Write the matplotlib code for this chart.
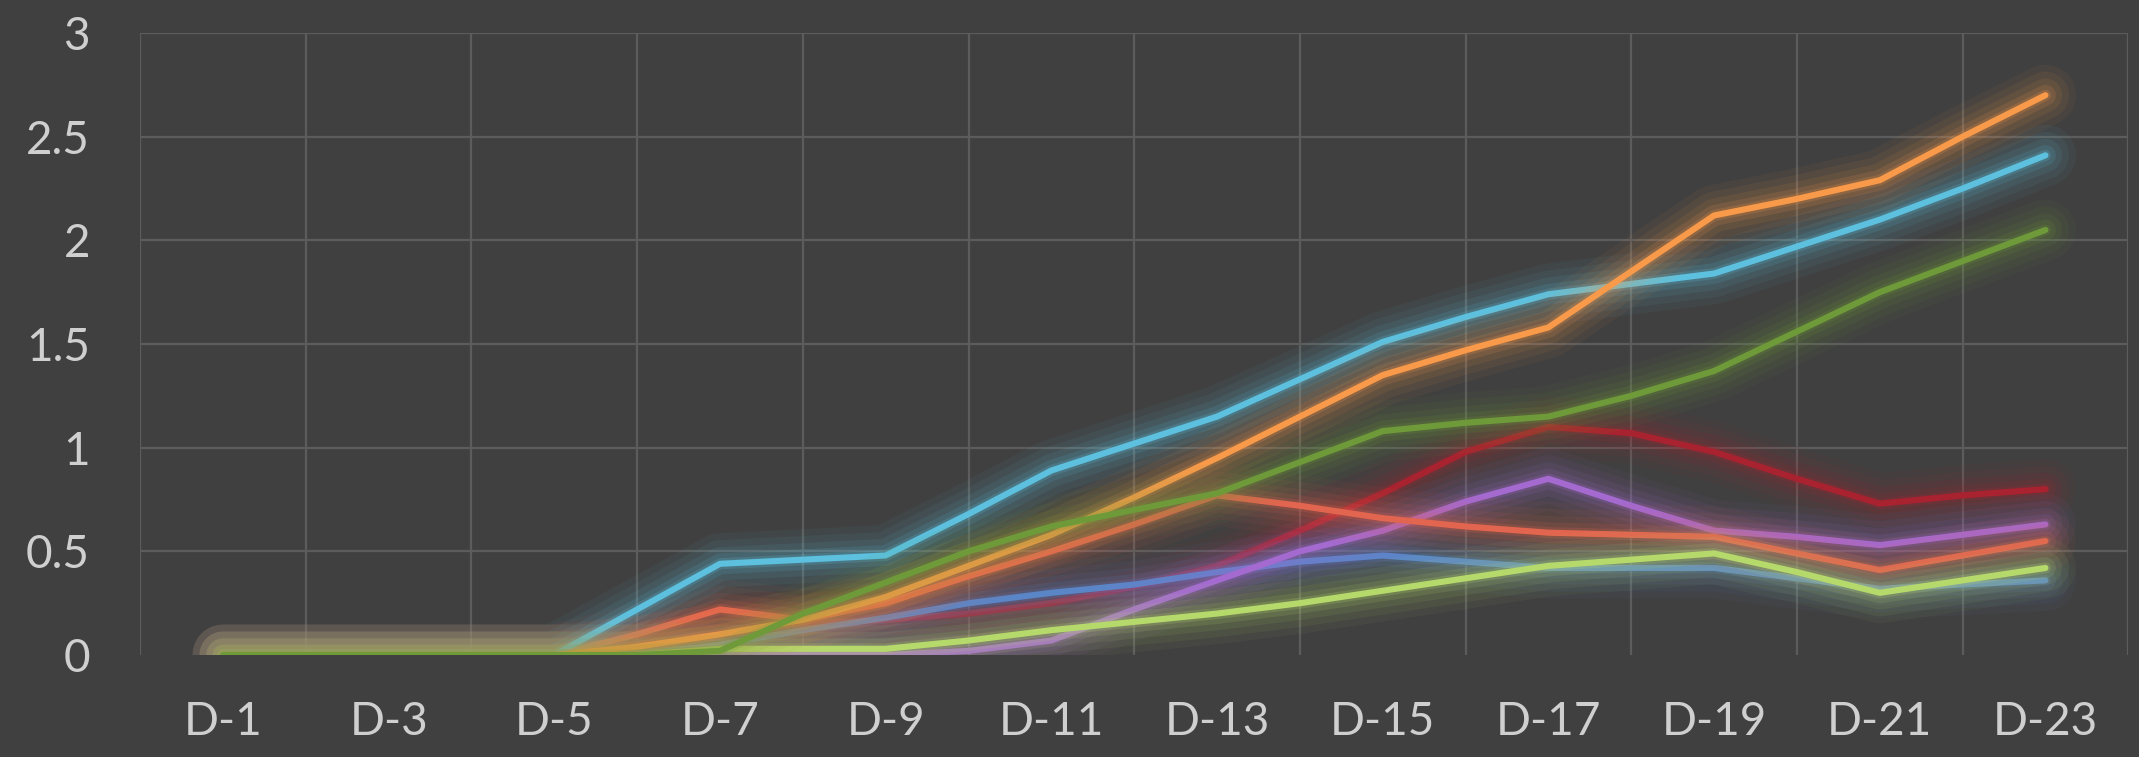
import numpy as np
import matplotlib.pyplot as plt
import matplotlib.patheffects as pe

days = ["D-%d" % i for i in range(1, 24)]

cyan = [0, 0, 0, 0, 0, 0.22, 0.44, 0.46, 0.48, 0.68, 0.89, 1.02, 1.15, 1.33, 1.51, 1.63, 1.74, 1.79, 1.84, 1.97, 2.10, 2.25, 2.41]
orange = [0, 0, 0, 0, 0, 0.04, 0.10, 0.17, 0.28, 0.43, 0.58, 0.76, 0.95, 1.15, 1.35, 1.47, 1.58, 1.85, 2.12, 2.20, 2.29, 2.50, 2.70]
green = [0, 0, 0, 0, 0, 0, 0.02, 0.20, 0.35, 0.50, 0.62, 0.70, 0.78, 0.93, 1.08, 1.12, 1.15, 1.25, 1.37, 1.56, 1.75, 1.90, 2.05]
coral = [0, 0, 0, 0, 0, 0.10, 0.22, 0.17, 0.25, 0.38, 0.50, 0.63, 0.77, 0.72, 0.66, 0.62, 0.59, 0.58, 0.57, 0.49, 0.41, 0.48, 0.55]
red = [0, 0, 0, 0, 0, 0.04, 0.10, 0.15, 0.17, 0.20, 0.25, 0.33, 0.43, 0.60, 0.78, 0.98, 1.10, 1.07, 0.98, 0.85, 0.73, 0.77, 0.80]
purple = [0, 0, 0, 0, 0, 0, 0, 0, 0, 0.02, 0.07, 0.22, 0.36, 0.50, 0.60, 0.74, 0.85, 0.72, 0.60, 0.57, 0.53, 0.58, 0.63]
blue = [0, 0, 0, 0, 0, 0, 0.05, 0.12, 0.18, 0.25, 0.30, 0.34, 0.40, 0.45, 0.48, 0.45, 0.42, 0.42, 0.42, 0.37, 0.32, 0.34, 0.36]
lime = [0, 0, 0, 0, 0, 0, 0.03, 0.03, 0.03, 0.07, 0.12, 0.16, 0.20, 0.25, 0.31, 0.37, 0.43, 0.46, 0.49, 0.40, 0.30, 0.36, 0.42]

# drawing order: first is at the bottom
series = [
    (red, "#a8232f"),
    (blue, "#5a86c8"),
    (purple, "#a46ad0"),
    (coral, "#e2654f"),
    (lime, "#b6d96c"),
    (cyan, "#5cc0de"),
    (orange, "#f99a4a"),
    (green, "#6f9a3a"),
]

bg = "#404040"
plt.rcParams['font.family'] = ['Lato', 'DejaVu Sans']

fig = plt.figure(figsize=(21.39, 7.57), dpi=100, facecolor=bg)
ax = fig.add_axes([0.0655, 0.1347, 0.9295, 0.8217])
ax.set_facecolor(bg)

x = np.arange(1, len(days) + 1)
for vals, col in series:
    glow = [
        pe.Stroke(linewidth=44, foreground=col, alpha=0.05),
        pe.Stroke(linewidth=34, foreground=col, alpha=0.07),
        pe.Stroke(linewidth=24, foreground=col, alpha=0.09),
        pe.Stroke(linewidth=15, foreground=col, alpha=0.13),
        pe.Stroke(linewidth=8, foreground=col, alpha=0.2),
        pe.Normal(),
    ]
    ax.plot(x, vals, color=col, linewidth=4.4, solid_capstyle='round',
            solid_joinstyle='round', path_effects=glow, zorder=3)

ax.set_xlim(0, 24)
ax.set_ylim(0, 3)
ax.set_yticks(np.arange(0, 3.01, 0.5))
ax.set_yticklabels(["0", "0.5", "1", "1.5", "2", "2.5", "3"])
ax.set_xticks(x[::2])
ax.set_xticklabels(days[::2])

ax.grid(False)
for yv in np.arange(0.5, 3.01, 0.5):
    ax.axhline(yv, color="#5c5c5c", linewidth=1.6, zorder=1)
for xv in np.arange(0, 25, 2):
    ax.axvline(xv, color="#5c5c5c", linewidth=1.6, zorder=1)

for s in ax.spines.values():
    s.set_visible(False)
ax.tick_params(axis='both', which='both', length=0, colors="#cfcfcf", labelsize=33)
ax.tick_params(axis='y', pad=36)
ax.tick_params(axis='x', pad=33)

plt.savefig("out.png", dpi=100, facecolor=bg)
